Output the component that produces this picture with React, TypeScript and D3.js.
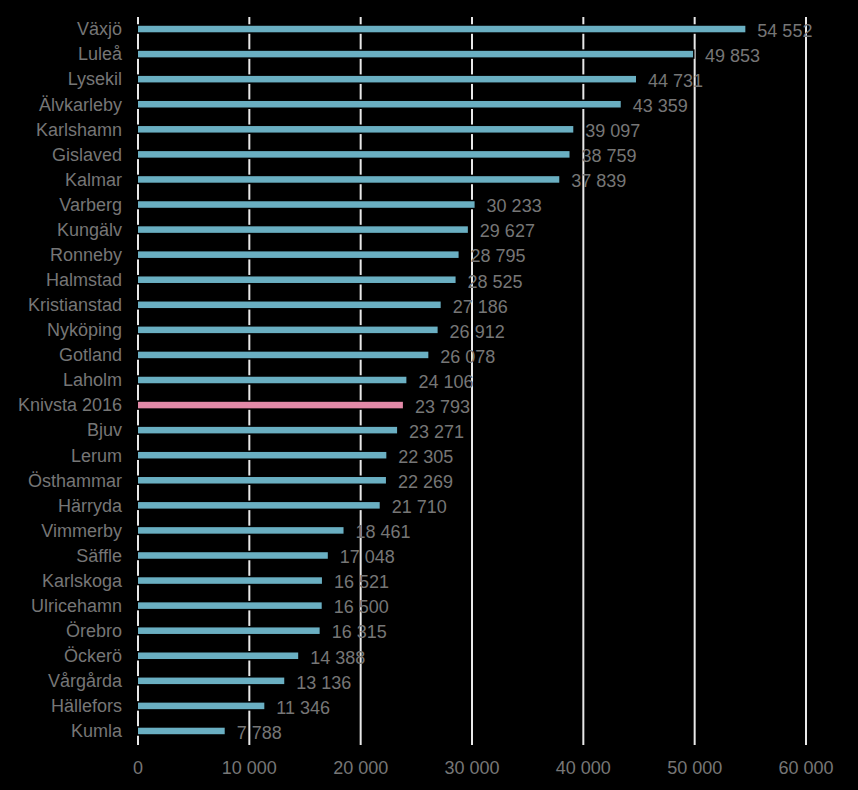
import React from "react";
import * as d3 from "d3";

const categories = ["Växjö","Luleå","Lysekil","Älvkarleby","Karlshamn","Gislaved","Kalmar","Varberg","Kungälv","Ronneby","Halmstad","Kristianstad","Nyköping","Gotland","Laholm","Knivsta 2016","Bjuv","Lerum","Östhammar","Härryda","Vimmerby","Säffle","Karlskoga","Ulricehamn","Örebro","Öckerö","Vårgårda","Hällefors","Kumla"];
const values = [54552,49853,44731,43359,39097,38759,37839,30233,29627,28795,28525,27186,26912,26078,24106,23793,23271,22305,22269,21710,18461,17048,16521,16500,16315,14388,13136,11346,7788];
const highlight = ["Knivsta 2016"];
const ticks = [0,10000,20000,30000,40000,50000,60000];

const fmt = (v: number) => d3.format(",")(v).replace(/,/g, " ");

export default function App() {
  const W = 858, H = 790;
  const x = d3.scaleLinear().domain([0, 60000]).range([138, 806]);
  const y = d3.scaleBand<string>().domain(categories).range([16.5, 743.5]).paddingInner(0.74).paddingOuter(0.37);
  const font = "Arial, 'Liberation Sans', sans-serif";
  const grey = "#767676";
  const fs = 18;
  return (
    <svg width={W} height={H} style={{ position: "absolute", left: 0, top: 0, background: "#000" }}>
      <rect x={0} y={0} width={W} height={H} fill="#000" />
      {ticks.map(t => (
        <line key={t} x1={x(t)} x2={x(t)} y1={17} y2={745} stroke="#e8e8e8" strokeWidth={2} />
      ))}
      {categories.map((c, i) => {
        const yy = y(c)!;
        const bh = y.bandwidth();
        return (
          <g key={c}>
            <rect x={x(0)} y={yy} width={x(values[i]) - x(0)} height={bh}
              fill={highlight.includes(c) ? "#e38aa8" : "#6aafc2"} stroke="#000" strokeWidth={3} paintOrder="stroke" />
            <text x={122} y={yy + bh / 2} dy="0.35em" textAnchor="end" fill={grey} fontSize={fs} fontFamily={font}>{c}</text>
            <text x={x(values[i]) + 12} y={yy + bh / 2 + 1.5} dy="0.35em" textAnchor="start" fill={grey} fontSize={fs} fontFamily={font}>{fmt(values[i])}</text>
          </g>
        );
      })}
      {ticks.map(t => (
        <text key={t} x={x(t)} y={768} dy="0.35em" textAnchor="middle" fill={grey} fontSize={fs} fontFamily={font}>{fmt(t)}</text>
      ))}
    </svg>
  );
}
